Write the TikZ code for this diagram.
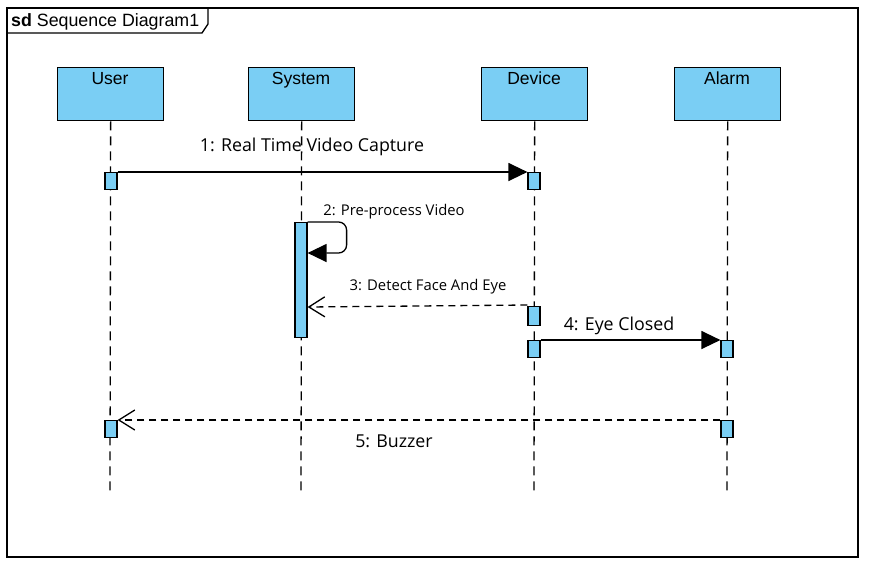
\documentclass[tikz,border=0pt]{standalone}
\usepackage{fontspec}
\setmainfont{Liberation Sans}
\newfontfamily\msgfont{Open Sans}
\usetikzlibrary{arrows.meta,calc}
\definecolor{lifeblue}{RGB}{122,206,244}
\tikzset{
  headbox/.style={draw=black, line width=1.3pt, fill=lifeblue, minimum width=106pt, minimum height=53pt, inner sep=0pt, anchor=north west},
  headtxt/.style={font=\fontsize{17.5}{17.5}\selectfont, anchor=base},
  actbar/.style={draw=black, line width=1.2pt, fill=lifeblue, minimum width=12pt, inner sep=0pt, anchor=north},
  lifeline/.style={line width=1.3pt, dash pattern=on 9pt off 6pt},
  syncmsg/.style={line width=1.3pt, -{Triangle[length=19pt,width=18pt]}},
  retmsg/.style={line width=1.3pt, dash pattern=on 7pt off 5pt, -{Straight Barb[length=16pt,width=20pt,line width=1.3pt]}},
  bigmsg/.style={font=\msgfont\fontsize{17.8}{17.8}\selectfont},
  smallmsg/.style={font=\msgfont\fontsize{14.8}{14.8}\selectfont},
}
\begin{document}
\begin{tikzpicture}[x=1pt,y=-1pt]
\useasboundingbox (0,0) rectangle (874,571);
% frame
\draw[line width=1.6pt] (7,8) rectangle (858,557);
\draw[line width=1.3pt] (7,33) -- (202,33) -- (208,24) -- (208,8);
\node[anchor=base west, inner sep=0pt, font=\fontsize{17.8}{17.8}\selectfont] (ftitle) at (11,26) {\textbf{sd} Sequence Diagram1};
% heads
\node[headbox] (huser) at (57,67) {};
\node[headbox] (hsys) at (248,67) {};
\node[headbox] (hdev) at (481,67) {};
\node[headbox] (halarm) at (674,67) {};
\node[headtxt] (tuser) at (110,84) {User};
\node[headtxt] (tsys) at (301,84) {System};
\node[headtxt] (tdev) at (534,84) {Device};
\node[headtxt] (talarm) at (727,84) {Alarm};
% lifeline ends
\coordinate (euser) at (110,493);
\coordinate (esys) at (301,493);
\coordinate (edev) at (534,493);
\coordinate (ealarm) at (727,493);
\draw[lifeline] (huser.south) -- (euser);
\draw[lifeline] (hsys.south) -- (esys);
\draw[lifeline] (hdev.south) -- (edev);
\draw[lifeline] (halarm.south) -- (ealarm);
% activation bars
\node[actbar, minimum height=17pt] (au1) at (111,172) {};
\node[actbar, minimum height=17pt] (ad1) at (534,172) {};
\node[actbar, minimum height=115pt] (as1) at (301,222) {};
\node[actbar, minimum height=19pt] (ad2) at (534,306) {};
\node[actbar, minimum height=17pt] (ad3) at (534,340) {};
\node[actbar, minimum height=17pt] (aa1) at (727,340) {};
\node[actbar, minimum height=17pt] (aa2) at (727,420) {};
\node[actbar, minimum height=17pt] (au2) at (111,420) {};
% messages
\draw[syncmsg] (au1.north east) -- (ad1.north west);
\node[bigmsg, anchor=base] (m1) at (312,151) {1: Real Time Video Capture};
\coordinate (e2) at ($(as1.north east)+(0,31)$);
\draw[syncmsg, rounded corners=8pt] (as1.north east) -- ++(39,0) -- ++(0,31) -- (e2);
\node[smallmsg, anchor=base] (m2) at (394,215) {2: Pre-process Video};
\draw[retmsg] ([yshift=1pt]ad2.north west) -- ($(as1.north east)+(0,85)$);
\node[smallmsg, anchor=base] (m3) at (428,290) {3: Detect Face And Eye};
\draw[syncmsg] (ad3.north east) -- (aa1.north west);
\node[bigmsg, anchor=base] (m4) at (619,330) {4: Eye Closed};
\draw[retmsg] (aa2.north west) -- (au2.north east);
\node[bigmsg, anchor=base] (m5) at (394,447) {5: Buzzer};
\end{tikzpicture}
\end{document}
